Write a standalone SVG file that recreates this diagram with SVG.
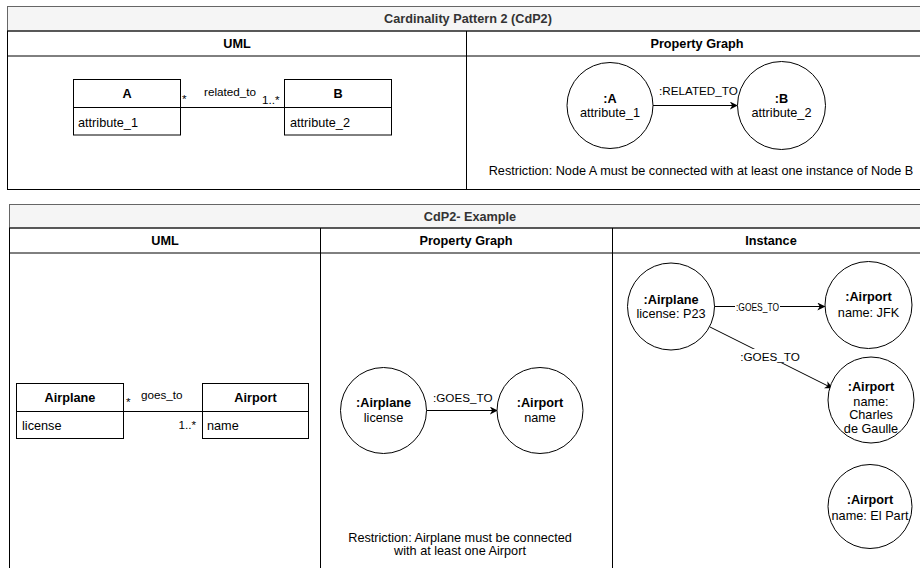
<svg xmlns="http://www.w3.org/2000/svg" width="920" height="568" viewBox="0 0 920 568">
  <defs>
    <marker id="arrow" viewBox="0 0 10 10" refX="9" refY="5" markerWidth="8" markerHeight="8" markerUnits="userSpaceOnUse" orient="auto">
      <path d="M0,0 L10,5 L0,10 L3,5 Z" fill="#000"/>
    </marker>
    <style>
      text { font-family: "Liberation Sans", Arial, Helvetica, sans-serif; fill: #000; }
      .title { font-size: 12.7px; font-weight: bold; fill: #333; text-anchor: middle; }
      .head { font-size: 12.7px; font-weight: bold; text-anchor: middle; }
      .cls { font-size: 12.7px; font-weight: bold; text-anchor: middle; }
      .attr { font-size: 12.7px; }
      .lbl { font-size: 11.7px; }
      .nb { font-size: 12.7px; font-weight: bold; text-anchor: middle; }
      .nt { font-size: 12.7px; text-anchor: middle; }
      .note { font-size: 12.7px; text-anchor: middle; }
      .band { fill: #f5f5f5; stroke: #666; stroke-width: 1; }
      .lane { fill: none; stroke: #000; stroke-width: 1; }
      .box { fill: #fff; stroke: #000; stroke-width: 1; }
      .edge { fill: none; stroke: #000; stroke-width: 1; }
    </style>
  </defs>
  <rect width="920" height="568" fill="#fff"/>

  <!-- Pattern table -->
  <g id="pattern-table">
    <rect class="band" x="7.5" y="6.5" width="921" height="24.5"/>
    <rect class="lane" x="7.5" y="31" width="921" height="158.5"/>
    <line class="lane" x1="7.5" y1="56" x2="928.5" y2="56"/>
    <line class="lane" x1="466.5" y1="31" x2="466.5" y2="189.5"/>
    <text class="title" x="468" y="23">Cardinality Pattern 2 (CdP2)</text>
    <text class="head" x="237" y="48">UML</text>
    <text class="head" x="697" y="48">Property Graph</text>
    <text class="note" x="701" y="174.5">Restriction: Node A must be connected with at least one instance of Node B</text>
  </g>

  <!-- Example table -->
  <g id="example-table">
    <rect class="band" x="9.5" y="204.5" width="921" height="23.5"/>
    <rect class="lane" x="9.5" y="228" width="921" height="345"/>
    <line class="lane" x1="9.5" y1="253" x2="930.5" y2="253"/>
    <line class="lane" x1="320.5" y1="228" x2="320.5" y2="573"/>
    <line class="lane" x1="612.5" y1="228" x2="612.5" y2="573"/>
    <text class="title" x="470" y="220.5">CdP2- Example</text>
    <text class="head" x="165" y="245">UML</text>
    <text class="head" x="466" y="245">Property Graph</text>
    <text class="head" x="771" y="245">Instance</text>
    <text class="note" x="460" y="541.5">Restriction: Airplane must be connected</text>
    <text class="note" x="460" y="555">with at least one Airport</text>
  </g>

  <!-- Connectors -->
  <g id="connectors">
    <line class="edge" x1="180.5" y1="107.5" x2="284.5" y2="107.5"/>
    <line class="edge" x1="653" y1="105.5" x2="737" y2="105.5" marker-end="url(#arrow)"/>
    <line class="edge" x1="123.5" y1="411.5" x2="202.5" y2="411.5"/>
    <line class="edge" x1="426.5" y1="410.5" x2="497" y2="410.5" marker-end="url(#arrow)"/>
    <line class="edge" x1="714" y1="306.5" x2="824.5" y2="306.5" marker-end="url(#arrow)"/>
    <line class="edge" x1="710" y1="327" x2="832" y2="388" marker-end="url(#arrow)"/>
    <!-- labels -->
    <text class="lbl" x="182" y="103">*</text>
    <text class="lbl" x="204" y="96">related_to</text>
    <text class="lbl" x="262" y="104">1..*</text>
    <text class="lbl" x="659" y="95">:RELATED_TO</text>
    <text class="lbl" x="126" y="406">*</text>
    <text class="lbl" x="141" y="399">goes_to</text>
    <text class="lbl" x="196" y="429" text-anchor="end">1..*</text>
    <text class="lbl" x="433" y="402">:GOES_TO</text>
    <rect x="735" y="299.5" width="45" height="13.5" fill="#fff"/>
    <text class="lbl" x="736" y="310.5" style="font-size:10.8px" textLength="43" lengthAdjust="spacingAndGlyphs">:GOES_TO</text>
    <rect x="738" y="349" width="64" height="14" fill="#fff"/>
    <text class="lbl" x="770" y="360.5" text-anchor="middle">:GOES_TO</text>
  </g>

  <!-- UML classes, pattern -->
  <g id="class-a">
    <rect class="box" x="73.5" y="79.5" width="107" height="55.5"/>
    <line class="edge" x1="73.5" y1="107.5" x2="180.5" y2="107.5"/>
    <text class="cls" x="127" y="98">A</text>
    <text class="attr" x="78" y="126.5">attribute_1</text>
  </g>
  <g id="class-b">
    <rect class="box" x="284.5" y="79.5" width="107" height="55.5"/>
    <line class="edge" x1="284.5" y1="107.5" x2="391.5" y2="107.5"/>
    <text class="cls" x="338" y="98">B</text>
    <text class="attr" x="290" y="126.5">attribute_2</text>
  </g>

  <!-- Property graph nodes, pattern -->
  <g id="node-a">
    <circle class="box" cx="610" cy="105.5" r="43"/>
    <text class="nb" x="610" y="102.5">:A</text>
    <text class="nt" x="610" y="116.5">attribute_1</text>
  </g>
  <g id="node-b">
    <circle class="box" cx="781.5" cy="105.5" r="44"/>
    <text class="nb" x="781.5" y="102.5">:B</text>
    <text class="nt" x="781.5" y="116.5">attribute_2</text>
  </g>

  <!-- UML classes, example -->
  <g id="class-airplane">
    <rect class="box" x="16.5" y="383.5" width="107" height="55"/>
    <line class="edge" x1="16.5" y1="411.5" x2="123.5" y2="411.5"/>
    <text class="cls" x="70" y="402">Airplane</text>
    <text class="attr" x="22" y="430">license</text>
  </g>
  <g id="class-airport">
    <rect class="box" x="202.5" y="383.5" width="106" height="55"/>
    <line class="edge" x1="202.5" y1="411.5" x2="308.5" y2="411.5"/>
    <text class="cls" x="255.5" y="402">Airport</text>
    <text class="attr" x="207" y="430">name</text>
  </g>

  <!-- Property graph nodes, example -->
  <g id="pg-airplane">
    <circle class="box" cx="383.5" cy="410.5" r="43"/>
    <text class="nb" x="383.5" y="407">:Airplane</text>
    <text class="nt" x="383.5" y="421.5">license</text>
  </g>
  <g id="pg-airport">
    <circle class="box" cx="540" cy="410.5" r="43"/>
    <text class="nb" x="540" y="407">:Airport</text>
    <text class="nt" x="540" y="421.5">name</text>
  </g>

  <!-- Instance nodes -->
  <g id="inst-airplane">
    <circle class="box" cx="671" cy="306.5" r="43.5"/>
    <text class="nb" x="671" y="304">:Airplane</text>
    <text class="nt" x="671" y="318">license: P23</text>
  </g>
  <g id="inst-jfk">
    <circle class="box" cx="868.5" cy="305" r="43.5"/>
    <text class="nb" x="868.5" y="301">:Airport</text>
    <text class="nt" x="868.5" y="317">name: JFK</text>
  </g>
  <g id="inst-cdg">
    <circle class="box" cx="871" cy="400" r="43"/>
    <text class="nb" x="871" y="391">:Airport</text>
    <text class="nt" x="871" y="405.5">name:</text>
    <text class="nt" x="871" y="419">Charles</text>
    <text class="nt" x="871" y="432.5">de Gaulle</text>
  </g>
  <g id="inst-elpart">
    <circle class="box" cx="870" cy="506.5" r="42"/>
    <text class="nb" x="870" y="504">:Airport</text>
    <text class="nt" x="870" y="519.5">name: El Part</text>
  </g>
</svg>
